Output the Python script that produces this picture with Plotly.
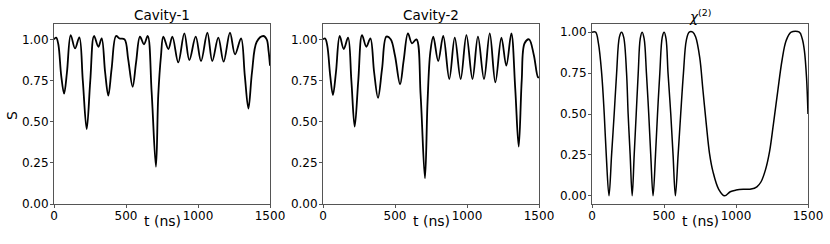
import plotly.graph_objects as go

# ---- data ----
t_cav1 = [0, 15, 30, 50, 70, 90, 116, 146, 176, 200, 227, 252, 278, 308, 331, 355, 377, 400,
          431, 455, 490, 515, 546, 570, 597, 625, 651, 678, 708, 724, 743, 759, 794, 822, 863,
          905, 940, 984, 1021, 1065, 1099, 1141, 1178, 1222, 1257, 1299, 1325, 1350, 1375,
          1408, 1454, 1477, 1490, 1500]
s_cav1 = [1.0, 1.01, 0.97, 0.78, 0.67, 0.80, 1.026, 0.945, 1.012, 0.75, 0.455, 0.75, 1.02, 0.955,
          1.006, 0.80, 0.658, 0.82, 1.02, 1.005, 1.0, 0.88, 0.712, 0.86, 1.016, 0.97, 1.02, 0.68,
          0.226, 0.66, 0.90, 1.016, 0.941, 1.016, 0.86, 1.036, 0.874, 1.016, 0.868, 1.04, 0.868,
          1.01, 0.864, 1.04, 0.909, 1.006, 0.78, 0.58, 0.80, 0.985, 1.02, 1.0, 0.93, 0.84]

t_cav2 = [0, 15, 30, 50, 69, 90, 116, 144, 174, 197, 220, 245, 271, 301, 329, 355, 382, 410,
          440, 470, 500, 535, 560, 590, 618, 649, 678, 708, 726, 745, 766, 800, 835, 877, 915,
          956, 996, 1038, 1076, 1118, 1158, 1197, 1239, 1273, 1308, 1335, 1359, 1380, 1400,
          1431, 1464, 1493, 1500]
s_cav2 = [1.0, 1.005, 0.96, 0.78, 0.662, 0.80, 1.02, 0.941, 1.01, 0.75, 0.47, 0.75, 1.026, 0.955,
          1.006, 0.80, 0.645, 0.82, 1.016, 1.0, 0.90, 0.727, 0.87, 1.036, 0.976, 1.0, 0.66, 0.156,
          0.62, 0.92, 1.016, 0.868, 1.02, 0.759, 1.01, 0.759, 1.026, 0.759, 1.016, 0.759, 1.036,
          0.739, 1.01, 0.84, 1.036, 0.70, 0.348, 0.75, 0.976, 1.0, 0.905, 0.77, 0.77]

t_chi = [0, 25, 45, 67, 85, 99, 118, 136, 154, 171, 190, 205, 220, 240, 251, 265, 279, 293, 307,
         321, 335, 348, 362, 378, 394, 408, 424, 441, 455, 471, 488, 501, 514, 528, 547, 563, 579,
         598, 616, 635, 655, 675, 700, 720, 748, 770, 794, 816, 840, 880, 921, 960, 1001, 1050,
         1105, 1145, 1174, 1205, 1233, 1260, 1290, 1320, 1348, 1383, 1440, 1460, 1475, 1490, 1500]
s_chi = [1.0, 1.0, 0.93, 0.75, 0.5, 0.25, 0.0, 0.25, 0.5, 0.75, 0.97, 1.0, 0.97, 0.75, 0.5, 0.25,
         0.0, 0.25, 0.5, 0.75, 0.96, 1.0, 0.96, 0.75, 0.5, 0.25, 0.0, 0.25, 0.5, 0.75, 0.97, 1.0,
         0.96, 0.75, 0.5, 0.25, 0.0, 0.25, 0.5, 0.75, 0.95, 1.0, 1.0, 0.97, 0.846, 0.65, 0.435,
         0.26, 0.148, 0.04, 0.0, 0.025, 0.035, 0.04, 0.041, 0.055, 0.086, 0.16, 0.27, 0.44, 0.64,
         0.83, 0.948, 1.0, 1.0, 0.96, 0.887, 0.72, 0.5]

titles = ["Cavity-1", "Cavity-2", "<i>χ</i><sup>(2)</sup>"]
x_ticks = [0, 500, 1000, 1500]
y_ticks = [0, 0.25, 0.5, 0.75, 1.0]
y_tick_text = ["0.00", "0.25", "0.50", "0.75", "1.00"]

W, H = 830, 244
FONT = "DejaVu Sans"
px_x = [(54, 270), (323, 539), (592, 808)]
py_top, py_bot = 24, 204
ydom = [(H - py_bot) / H, (H - py_top) / H]
FRAME = "#555555"

fig = go.Figure()
series = [(t_cav1, s_cav1, 1.8), (t_cav2, s_cav2, 1.8), (t_chi, s_chi, 1.5)]
for i, (tx, sy, lw) in enumerate(series):
    n = "" if i == 0 else str(i + 1)
    fig.add_trace(go.Scatter(x=tx, y=sy, mode="lines",
                             line=dict(color="black", width=lw, shape="spline", smoothing=1.0),
                             xaxis="x" + n, yaxis="y" + n, showlegend=False, hoverinfo="skip",
                             cliponaxis=True))
    axcommon = dict(showline=True, linecolor=FRAME, linewidth=1, mirror=True,
                    ticks="outside", ticklen=3, tickwidth=1, tickcolor=FRAME,
                    showgrid=False, zeroline=False, automargin=False,
                    tickfont=dict(family=FONT, size=12, color="black"))
    fig.layout["xaxis" + n] = dict(domain=[px_x[i][0] / W, px_x[i][1] / W], range=[0, 1500],
                                   tickvals=x_ticks, anchor="y" + n, ticklabelstandoff=-2,
                                   **axcommon)
    yr = [0, 1.093] if i < 2 else [-0.05, 1.05]
    fig.layout["yaxis" + n] = dict(domain=ydom, range=yr, tickvals=y_ticks, ticktext=y_tick_text,
                                   anchor="x" + n, ticklabelstandoff=-1, **axcommon)
    cx = (px_x[i][0] + px_x[i][1]) / 2 / W
    fig.add_annotation(x=cx, y=ydom[1], xref="paper", yref="paper", text=titles[i],
                       showarrow=False, xanchor="center", yanchor="bottom",
                       yshift=-1 if i < 2 else -3,
                       font=dict(family=FONT, size=13.5, color="black"))
    fig.add_annotation(x=cx, y=(H - 221) / H, xref="paper", yref="paper", text="t (ns)",
                       showarrow=False, xanchor="center", yanchor="middle",
                       font=dict(family=FONT, size=14, color="black"))

fig.add_annotation(x=12 / W, y=(H - 116) / H, xref="paper", yref="paper", text="S",
                   showarrow=False, textangle=-90, xanchor="center", yanchor="middle",
                   font=dict(family=FONT, size=14, color="black"))

fig.update_layout(width=W, height=H, margin=dict(l=0, r=0, t=0, b=0),
                  paper_bgcolor="white", plot_bgcolor="white")
fig.write_html("out.html", config={"displayModeBar": False, "staticPlot": True},
               post_script="document.body.style.margin='0';document.body.style.overflow='hidden';")
